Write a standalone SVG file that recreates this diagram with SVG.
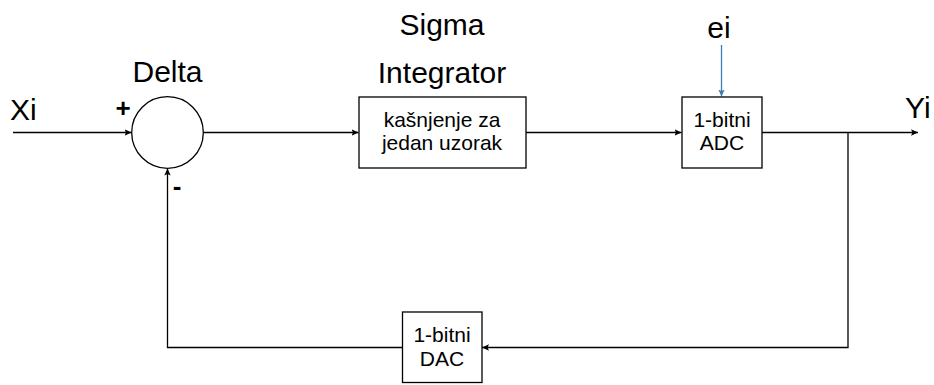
<svg xmlns="http://www.w3.org/2000/svg" width="934" height="385" viewBox="0 0 934 385">
<defs>
<marker id="ah" markerWidth="8" markerHeight="8" refX="7" refY="4" orient="auto" markerUnits="userSpaceOnUse">
<path d="M0,0.8 L7,4 L0,7.2 L1.5,4 Z" fill="#000"/>
</marker>
<marker id="ahb" markerWidth="8" markerHeight="8" refX="7" refY="4" orient="auto" markerUnits="userSpaceOnUse">
<path d="M0,0.8 L7,4 L0,7.2 L1.5,4 Z" fill="#3a7db5"/>
</marker>
<style>
text{font-family:"Liberation Sans",Arial,sans-serif;fill:#000}
.big{font-size:30px}
.small{font-size:21px;text-anchor:middle}
.box{fill:#fff;stroke:#000;stroke-width:1.3}
.wire{fill:none;stroke:#000;stroke-width:1.3}
</style>
</defs>
<rect width="934" height="385" fill="#fff"/>
<g id="connectors">
<line class="wire" x1="13" y1="132.5" x2="131.5" y2="132.5" marker-end="url(#ah)"/>
<line class="wire" x1="203.5" y1="132.5" x2="358.5" y2="132.5" marker-end="url(#ah)"/>
<line class="wire" x1="525.5" y1="132.5" x2="681.5" y2="132.5" marker-end="url(#ah)"/>
<line class="wire" x1="761.5" y1="132.5" x2="918" y2="132.5" marker-end="url(#ah)"/>
<polyline class="wire" points="848,132.5 848,347.5 482,347.5" marker-end="url(#ah)"/>
<polyline class="wire" points="402.5,347.5 167.5,347.5 167.5,168.5" marker-end="url(#ah)"/>
<line fill="none" stroke="#3a7db5" stroke-width="1.3" x1="721.5" y1="45" x2="721.5" y2="96.5" marker-end="url(#ahb)"/>
</g>
<g id="delta">
<circle cx="167.5" cy="132.5" r="35.8" fill="#fff" stroke="#000" stroke-width="1.3"/>
<text class="big" x="167.5" y="82" text-anchor="middle">Delta</text>
<text x="123" y="117" font-size="26" font-weight="bold" text-anchor="middle">+</text>
<text x="177" y="195" font-size="26" font-weight="bold" text-anchor="middle">-</text>
</g>
<g id="xi"><text class="big" x="10" y="120">Xi</text></g>
<g id="integrator">
<text class="big" x="442" y="35" text-anchor="middle">Sigma</text>
<text class="big" x="442" y="83" text-anchor="middle">Integrator</text>
<rect class="box" x="359" y="97" width="167" height="71"/>
<text class="small" x="442" y="127">kašnjenje za</text>
<text class="small" x="442" y="150">jedan uzorak</text>
</g>
<g id="adc">
<text class="big" x="719" y="38" text-anchor="middle">ei</text>
<rect class="box" x="682" y="97" width="80" height="71"/>
<text class="small" x="722" y="127">1-bitni</text>
<text class="small" x="722" y="150">ADC</text>
</g>
<g id="yi"><text class="big" x="905" y="118">Yi</text></g>
<g id="dac">
<rect class="box" x="402.5" y="312" width="79.5" height="70.5"/>
<text class="small" x="442" y="342">1-bitni</text>
<text class="small" x="442" y="366">DAC</text>
</g>
</svg>
